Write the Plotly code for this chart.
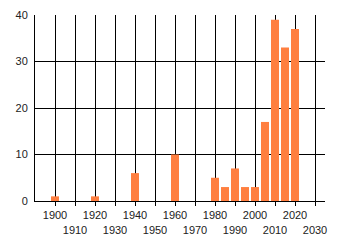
import plotly.graph_objects as go

years = [1900, 1920, 1940, 1960, 1980, 1985, 1990, 1995, 2000, 2005, 2010, 2015, 2020]
counts = [1, 1, 6, 10, 5, 3, 7, 3, 3, 17, 39, 33, 37]
tick_years = list(range(1900, 2031, 10))
tick_text = [str(y) if (y // 10) % 2 == 0 else "<br>" + str(y) for y in tick_years]
y_ticks = [0, 10, 20, 30, 40]

fig = go.Figure(go.Bar(x=years, y=counts, width=4, marker=dict(color="#FF7F40", line=dict(width=0))))

fig.update_layout(
    width=340, height=245,
    margin=dict(l=35, r=15, t=15, b=44),
    paper_bgcolor="white", plot_bgcolor="white",
    font=dict(family="Liberation Sans, Arial, sans-serif", size=11, color="#222"),
    showlegend=False,
    xaxis=dict(range=[1890, 2035], tickvals=tick_years, ticktext=tick_text,
               showgrid=True, gridcolor="black", gridwidth=1, automargin=False,
               ticks="outside", ticklen=4, tickcolor="black", tickwidth=1,
               tickangle=0, zeroline=False, showline=True, linecolor="black", linewidth=1),
    yaxis=dict(range=[0, 40], tickvals=y_ticks, showgrid=True, gridcolor="black", gridwidth=1,
               zeroline=False, showline=True, linecolor="black", linewidth=1, automargin=False,
               ticks="", ticklabelstandoff=4),
)

fig.write_html("out.html")
